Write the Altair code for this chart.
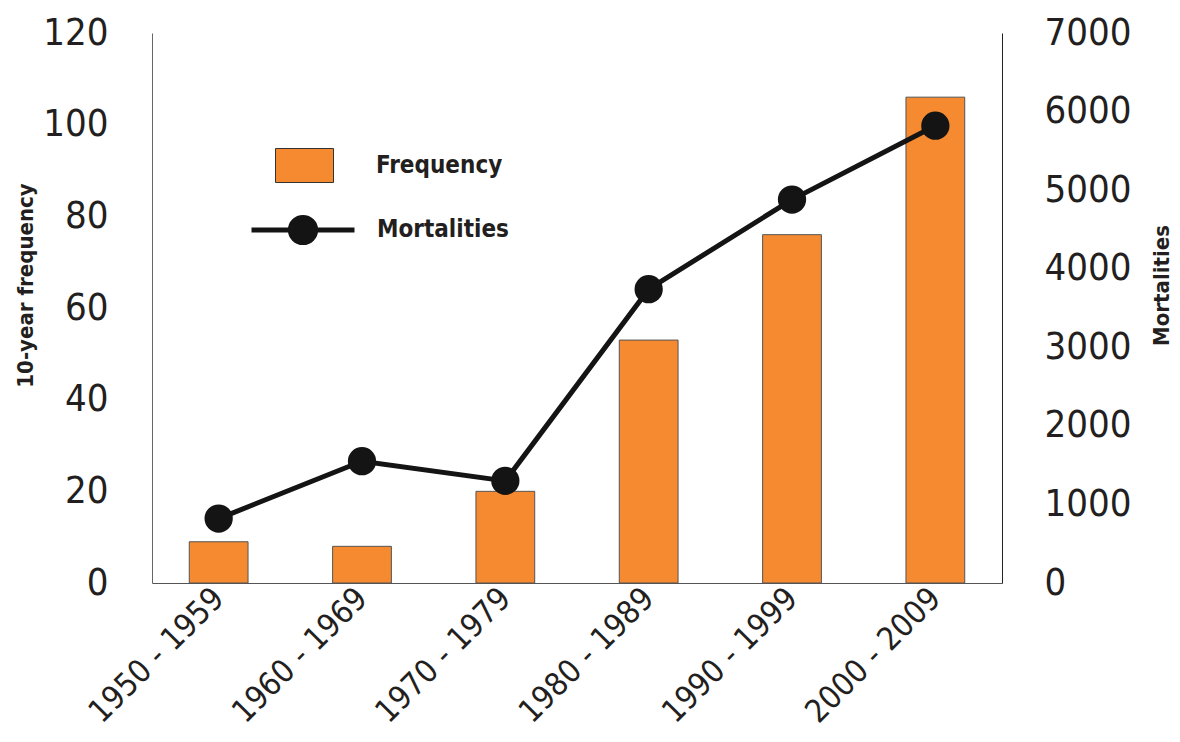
import altair as alt
import pandas as pd

periods = ["1950 - 1959", "1960 - 1969", "1970 - 1979", "1980 - 1989", "1990 - 1999", "2000 - 2009"]
frequency = [9, 8, 20, 53, 76, 106]
mortalities = [820, 1550, 1300, 3740, 4880, 5820]
freq_ticks = [0, 20, 40, 60, 80, 100, 120]
mort_ticks = [0, 1000, 2000, 3000, 4000, 5000, 6000, 7000]

df = pd.DataFrame({
    "period": periods,
    "frequency": frequency,
    "mortalities": mortalities,
    "s1": ["Frequency"] * len(periods),
    "s2": ["Mortalities"] * len(periods),
})

FONT = "DejaVu Sans Condensed, Roboto Condensed, Roboto, sans-serif"
TXT = "#231F20"
ORANGE = "#F58A31"
DARK = "#141414"

rect_path = "M-1,-0.586H1V0.586H-1Z"
line_dot_path = "M-1,0H1M0.245,0A0.245,0.245,0,1,1,-0.245,0A0.245,0.245,0,1,1,0.245,0Z"

x_enc = alt.X(
    "period:N", sort=periods,
    scale=alt.Scale(paddingInner=0.59, paddingOuter=0.26),
    axis=alt.Axis(title=None, labelAngle=315, labelAlign="right", labelBaseline="middle",
                  labelFontSize=32, labelPadding=10, labelLimit=0, ticks=False,
                  domainColor="#555", labelColor=TXT, labelFont=FONT),
)

y_left = alt.Y(
    "frequency:Q",
    scale=alt.Scale(domain=[0, 120], nice=False),
    axis=alt.Axis(values=freq_ticks, title="10-year frequency", grid=False, ticks=False,
                  domainColor="#666", labelFontSize=38, labelFont=FONT, labelColor=TXT,
                  labelPadding=44, titleFont=FONT, titleFontSize=22, titleFontWeight="bold",
                  titleColor=TXT, titleAngle=270, titleX=-127, titleY=252,
                  titleAlign="center", titleBaseline="middle"),
)

y_right = alt.Y(
    "mortalities:Q",
    scale=alt.Scale(domain=[0, 7000], nice=False),
    axis=alt.Axis(orient="right", values=mort_ticks, format="d", title="Mortalities",
                  grid=False, ticks=False, domainColor="#222", labelFontSize=38,
                  labelFont=FONT, labelColor=TXT, labelPadding=42, labelAlign="left",
                  titleFont=FONT, titleFontSize=22, titleFontWeight="bold", titleColor=TXT,
                  titleAngle=270, titleX=159, titleY=252, titleAlign="center",
                  titleBaseline="middle"),
)

bars = alt.Chart(df).mark_bar(stroke="#555555", strokeWidth=1, opacity=1).encode(
    x=x_enc,
    y=y_left,
    fill=alt.Fill(
        "s1:N",
        scale=alt.Scale(domain=["Frequency"], range=[ORANGE]),
        legend=alt.Legend(title=None, orient="none", legendX=123, legendY=103,
                          symbolType=rect_path, symbolSize=3364, symbolStrokeColor="#333",
                          symbolStrokeWidth=1, symbolOpacity=1, labelFont=FONT,
                          labelFontSize=24, labelFontWeight="bold", labelColor=TXT,
                          labelOffset=42, padding=0),
    ),
)

line = alt.Chart(df).mark_line(strokeWidth=5).encode(
    x=x_enc,
    y=y_right,
    stroke=alt.Stroke(
        "s2:N",
        scale=alt.Scale(domain=["Mortalities"], range=[DARK]),
        legend=alt.Legend(title=None, orient="none", legendX=97, legendY=143,
                          symbolType=line_dot_path, symbolSize=10609, symbolFillColor=DARK,
                          symbolStrokeWidth=5, symbolOpacity=1, labelFont=FONT,
                          labelFontSize=24, labelFontWeight="bold", labelColor=TXT,
                          labelOffset=20, padding=0),
    ),
)

points = alt.Chart(df).mark_circle(size=800, color=DARK, opacity=1).encode(
    x=x_enc,
    y=y_right,
)

chart = alt.layer(bars, alt.layer(line, points)).resolve_scale(
    y="independent"
).properties(
    width=850, height=550,
    autosize=alt.AutoSizeParams(type="none"),
    padding={"left": 144, "top": 25, "right": 170, "bottom": 150},
).configure_view(stroke=None)

chart.save("out.html", embed_options={"renderer": "svg", "actions": False})
